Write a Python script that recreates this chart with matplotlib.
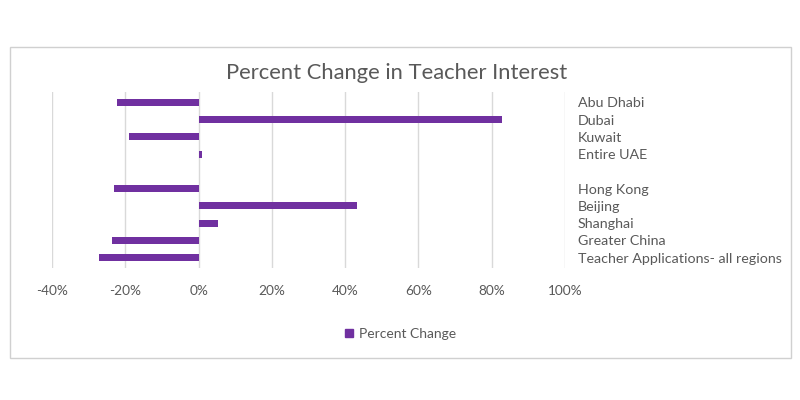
import matplotlib
matplotlib.use("Agg")
import matplotlib.pyplot as plt
from matplotlib.patches import Rectangle
from matplotlib.ticker import FuncFormatter

# Данные (читаются с графика, проценты)
categories = [
    "Abu Dhabi",
    "Dubai",
    "Kuwait",
    "Entire UAE",
    "",
    "Hong Kong",
    "Beijing",
    "Shanghai",
    "Greater China",
    "Teacher Applications- all regions",
]
percent_change = [-22.2, 82.7, -19.0, 0.9, 0.0, -23.0, 43.2, 5.2, -23.7, -27.1]
x_ticks = [-40, -20, 0, 20, 40, 60, 80, 100]

PURPLE = "#7030A0"
TEXT = "#595959"
GRID = "#d9d9d9"

plt.rcParams["font.family"] = ["Lato", "DejaVu Sans"]

fig = plt.figure(figsize=(8, 4), dpi=100)
fig.patch.set_facecolor("white")

# рамка вокруг диаграммы, как в Excel
fig.patches.append(Rectangle((10 / 800, 1 - 358 / 400), 781 / 800, 311 / 400,
                             transform=fig.transFigure, fill=False,
                             edgecolor="#d0d0d0", linewidth=1))

ax = fig.add_axes([52 / 800, 1 - 268 / 400, 513 / 800, 176 / 400])

y_pos = list(range(len(categories)))
ax.barh(y_pos, percent_change, height=0.4, color=PURPLE, zorder=3)

ax.set_xlim(x_ticks[0], x_ticks[-1])
ax.set_ylim(len(categories) - 0.4, -0.6)
ax.set_xticks(x_ticks)
ax.xaxis.set_major_formatter(FuncFormatter(lambda v, p: f"{v:.0f}%"))
ax.grid(True, axis="x", color=GRID, linewidth=1, zorder=0)

ax.yaxis.tick_right()
ax.set_yticks(y_pos)
ax.set_yticklabels(categories)
ax.tick_params(axis="y", length=0, pad=9, labelsize=10.3, labelcolor=TEXT)
ax.tick_params(axis="x", length=0, pad=12, labelsize=9.8, labelcolor=TEXT)

for s in ax.spines.values():
    s.set_visible(False)

fig.text(0.496, 1 - 73 / 400, "Percent Change in Teacher Interest",
         ha="center", va="center", fontsize=15.8, color=TEXT)

handle = plt.Line2D([], [], marker="s", linestyle="none", color=PURPLE, markersize=6)
fig.legend([handle], ["Percent Change"], loc="center", bbox_to_anchor=(0.5, 1 - 334 / 400),
           frameon=False, fontsize=10, labelcolor=TEXT, handletextpad=0.3,
           handlelength=0.8)

plt.savefig("out.png", dpi=100)
